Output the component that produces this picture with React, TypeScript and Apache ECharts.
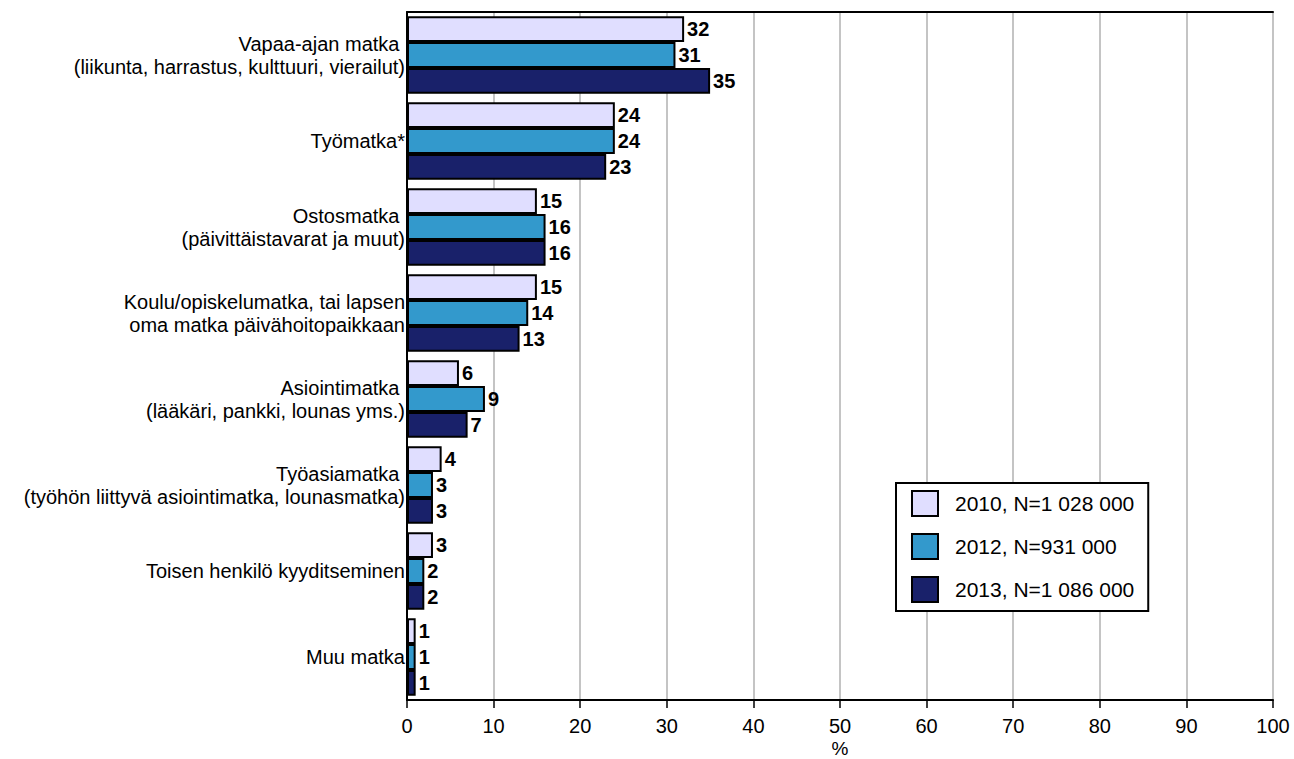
import React, { useEffect, useRef } from "react";
import * as echarts from "echarts";

const categories = [
  "Vapaa-ajan matka \n(liikunta, harrastus, kulttuuri, vierailut)",
  "Työmatka*",
  "Ostosmatka \n(päivittäistavarat ja muut)",
  "Koulu/opiskelumatka, tai lapsen\noma matka päivähoitopaikkaan",
  "Asiointimatka \n(lääkäri, pankki, lounas yms.)",
  "Työasiamatka \n(työhön liittyvä asiointimatka, lounasmatka)",
  "Toisen henkilö kyyditseminen",
  "Muu matka",
];
const seriesNames = ["2010, N=1 028 000", "2012, N=931 000", "2013, N=1 086 000"];
const values2010 = [32, 24, 15, 15, 6, 4, 3, 1];
const values2012 = [31, 24, 16, 14, 9, 3, 2, 1];
const values2013 = [35, 23, 16, 13, 7, 3, 2, 1];
const colors = ["#E0DEFF", "#3399CC", "#19216A"];
const xTicks = [0, 10, 20, 30, 40, 50, 60, 70, 80, 90, 100];
const xAxisName = "%";

const FONT = "'Liberation Sans', Arial, sans-serif";
const FS = 20;

export default function App() {
  const ref = useRef<HTMLDivElement>(null);
  useEffect(() => {
    if (!ref.current) return;
    const chart = echarts.init(ref.current, null, { renderer: "svg" });
    const all = [values2010, values2012, values2013];
    chart.setOption({
      animation: false,
      textStyle: { fontFamily: FONT },
      grid: { left: 407, right: 21, top: 12, bottom: 59, outerBoundsMode: "none", containLabel: false },
      graphic: [
        {
          type: "text",
          x: 840,
          y: 748,
          style: {
            text: xAxisName,
            fontFamily: FONT,
            fontSize: 19,
            fill: "#000",
            align: "center",
            verticalAlign: "middle",
          },
        },
      ],
      legend: {
        orient: "vertical",
        left: 896,
        top: 483,
        padding: [7, 14, 8, 15],
        icon: "rect",
        itemWidth: 26,
        itemHeight: 25,
        itemGap: 16,
        borderColor: "#000",
        borderWidth: 2,
        backgroundColor: "#fff",
        textStyle: { fontFamily: FONT, fontSize: 21, color: "#000", padding: [0, 0, 0, 12] },
        data: seriesNames,
      },
      xAxis: [
        {
          type: "value",
          min: xTicks[0],
          max: xTicks[xTicks.length - 1],
          interval: 10,
          axisLine: { show: true, lineStyle: { color: "#000", width: 2 } },
          axisTick: { show: true, length: 8, lineStyle: { color: "#000", width: 1.5 } },
          axisLabel: { fontFamily: FONT, fontSize: FS, color: "#000", margin: 16 },
          splitLine: { show: true, lineStyle: { color: "#b0b0b0", width: 1.5 } },
        },
        {
          type: "value",
          position: "top",
          min: 0,
          max: 100,
          interval: 10,
          axisLine: { show: true, lineStyle: { color: "#000", width: 2 } },
          axisTick: { show: false },
          axisLabel: { show: false },
          splitLine: { show: false },
        },
      ],
      yAxis: {
        type: "category",
        inverse: true,
        data: categories,
        axisLine: { show: true, lineStyle: { color: "#000", width: 2 } },
        axisTick: { show: false },
        axisLabel: {
          fontFamily: FONT,
          fontSize: FS,
          color: "#000",
          margin: 2,
          lineHeight: 23,
          align: "right",
        },
      },
      series: seriesNames.map((name, i) => ({
        name,
        type: "bar",
        xAxisIndex: 0,
        data: all[i],
        barGap: "0%",
        barCategoryGap: "10%",
        itemStyle: { color: colors[i], borderColor: "#000", borderWidth: 2 },
        label: {
          show: true,
          position: "right",
          distance: 3,
          fontFamily: FONT,
          fontSize: FS,
          fontWeight: "bold",
          color: "#000",
        },
      })),
    });
    return () => chart.dispose();
  }, []);
  return (
    <div
      ref={ref}
      style={{ position: "fixed", left: 0, top: 0, width: 1294, height: 759, background: "#fff" }}
    />
  );
}
